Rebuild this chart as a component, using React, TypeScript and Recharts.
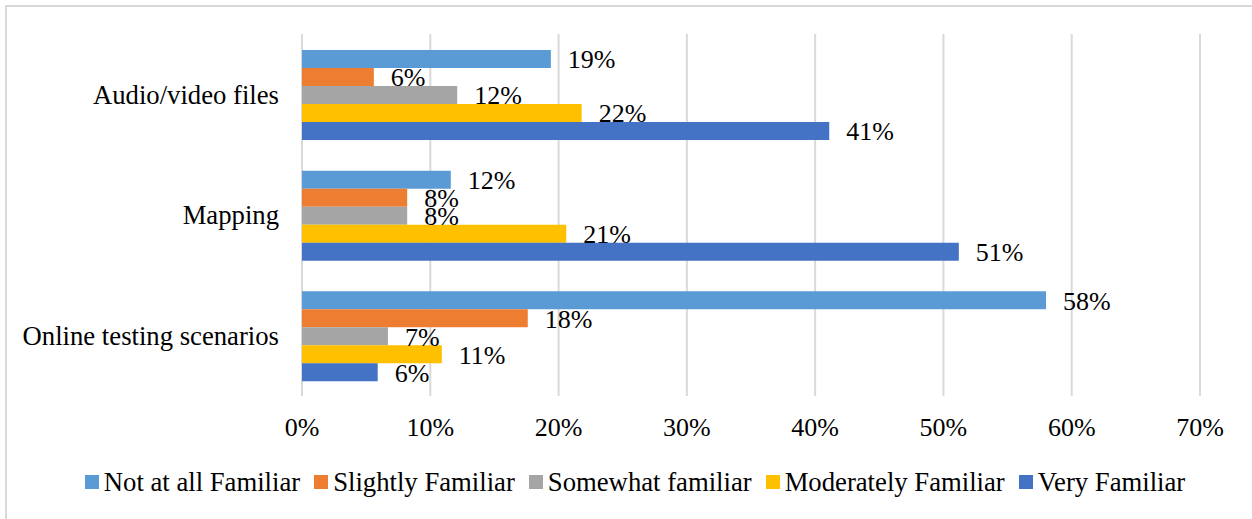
import React from 'react';
import { BarChart, Bar, XAxis, YAxis, CartesianGrid, LabelList, Legend } from 'recharts';

const categories = ['Audio/video files', 'Mapping', 'Online testing scenarios'];
const notAtAll = [19.4, 11.6, 58.0];
const slightly = [5.6, 8.2, 17.6];
const somewhat = [12.1, 8.2, 6.7];
const moderately = [21.8, 20.6, 10.9];
const very = [41.1, 51.2, 5.9];
const xTicks = [0, 10, 20, 30, 40, 50, 60, 70];

const seriesNames = ['Not at all Familiar', 'Slightly Familiar', 'Somewhat familiar', 'Moderately Familiar', 'Very Familiar'];
const seriesKeys = ['notAtAll', 'slightly', 'somewhat', 'moderately', 'very'];
const seriesColors = ['#5B9BD5', '#ED7D31', '#A5A5A5', '#FFC000', '#4472C4'];

const data = categories.map((c, i) => ({
  category: c,
  notAtAll: notAtAll[i],
  slightly: slightly[i],
  somewhat: somewhat[i],
  moderately: moderately[i],
  very: very[i],
}));

const FONT = '"Liberation Serif", "Times New Roman", serif';
const FS = 26;
const FS_BIG = 26.7;

const LegendContent = () => (
  <div style={{ display: 'flex', justifyContent: 'center', alignItems: 'center', fontFamily: FONT, fontSize: FS_BIG, lineHeight: '26px', color: '#000', paddingLeft: 18 }}>
    {seriesNames.map((n, i) => (
      <div key={n} style={{ display: 'flex', alignItems: 'center', marginRight: i < seriesNames.length - 1 ? 14 : 0 }}>
        <div style={{ width: 14, height: 14, background: seriesColors[i], marginRight: 5 }} />
        <span style={{ whiteSpace: 'nowrap' }}>{n}</span>
      </div>
    ))}
  </div>
);

export default function App() {
  return (
    <div style={{ position: 'absolute', left: 0, top: 0, width: 1252, height: 519, overflow: 'hidden', background: '#fff' }}>
      <div style={{ position: 'absolute', left: 5, top: 5, width: 1270, height: 540, border: '2px solid #D9D9D9' }} />
      <div style={{ position: 'absolute', left: 0, top: 0 }}>
        <BarChart
          width={1252}
          height={519}
          data={data}
          layout="vertical"
          margin={{ top: 34, right: 52, bottom: 83, left: 0 }}
          barCategoryGap={16}
          barGap={0}
        >
          <CartesianGrid horizontal={false} vertical={true} stroke="#D9D9D9" strokeWidth={2} />
          <XAxis
            type="number"
            domain={[0, 70]}
            ticks={xTicks}
            tickFormatter={(v: number) => `${v}%`}
            axisLine={false}
            tickLine={false}
            tickSize={0}
            tickMargin={22}
            height={40}
            tick={{ fill: '#000', fontSize: FS, fontFamily: FONT }}
            interval={0}
          />
          <YAxis
            type="category"
            dataKey="category"
            width={302}
            axisLine={false}
            tickLine={false}
            tickSize={0}
            tickMargin={23}
            tick={{ fill: '#000', fontSize: FS_BIG, fontFamily: FONT }}
            interval={0}
          />
          <Legend verticalAlign="middle" align="center" layout="horizontal" content={<LegendContent />} wrapperStyle={{ top: 469, left: 0, width: 1252 }} />
          {seriesKeys.map((k, i) => (
            <Bar key={k} dataKey={k} name={seriesNames[i]} fill={seriesColors[i]} isAnimationActive={false}>
              <LabelList
                dataKey={k}
                position="right"
                offset={17}
                formatter={(v: any) => `${Math.round(Number(v))}%`}
                style={{ fill: '#000', fontSize: FS, fontFamily: FONT }}
              />
            </Bar>
          ))}
        </BarChart>
      </div>
    </div>
  );
}
